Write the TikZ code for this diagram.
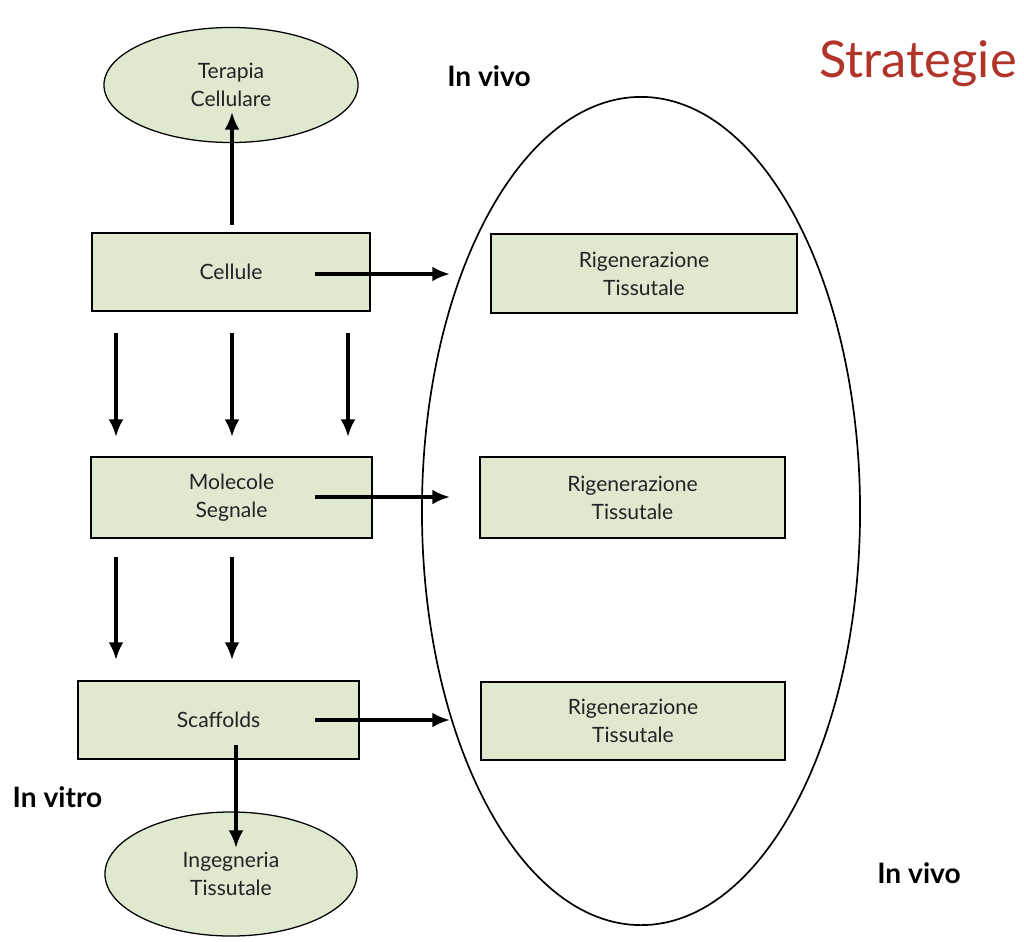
\documentclass[tikz,border=0pt]{standalone}
\usepackage{fontspec}
\setmainfont{Lato}
\usepackage{tikz}
\usetikzlibrary{arrows.meta,positioning,shapes}
\usepackage{xcolor}
\definecolor{boxgreen}{RGB}{222,233,208}
\definecolor{titlered}{RGB}{176,52,42}
\definecolor{boxtext}{RGB}{35,35,35}

\begin{document}
\begin{tikzpicture}[
  x=0.025cm, y=-0.025cm,
  box/.style={rectangle, draw, line width=1.4pt, fill=boxgreen, text=boxtext,
              minimum width=#1, minimum height=1.97cm, inner sep=0pt,
              align=center, font=\fontsize{15}{20}\selectfont},
  box/.default=7cm,
  goal/.style={ellipse, draw, line width=0.9pt, fill=boxgreen, text=boxtext,
               inner sep=0pt, align=center, font=\fontsize{15}{20}\selectfont},
  lbl/.style={anchor=base, font=\fontsize{20}{24}\selectfont\bfseries},
  flow/.style={->, line width=2.3pt},
  >={Latex[length=12.5pt,width=10.5pt]}
]
  \useasboundingbox[fill=white] (0,0) rectangle (1024,941);

  \node[ellipse, draw, line width=1.2pt, inner sep=0pt,
        minimum width=10.95cm, minimum height=20.7cm] (vivo) at (641,511) {};

  \node[goal, minimum width=6.35cm, minimum height=2.875cm] (ter) at (231,85) {Terapia\\Cellulare};
  \node[goal, minimum width=6.3cm, minimum height=3.1cm] (ing) at (231,874) {Ingegneria\\Tissutale};

  \node[box=6.95cm] (cell) at (231,272) {Cellule};
  \node[box=7.03cm, minimum height=2.03cm] (mol) at (231.5,497.5) {Molecole\\Segnale};
  \node[box=7.03cm] (scaf) at (218.5,720) {Scaffolds};

  \node[box=7.65cm] (rig1) at (644,273.5) {Rigenerazione\\Tissutale};
  \node[box=7.63cm, minimum height=2.03cm] (rig2) at (632.5,497.5) {Rigenerazione\\Tissutale};
  \node[box=7.6cm] (rig3) at (633,721) {Rigenerazione\\Tissutale};

  \node[lbl] (iv1) at (489,86) {In vivo};
  \node[lbl] (iv2) at (919,883) {In vivo};
  \node[lbl] (ivt) at (57.5,807) {In vitro};
  \node[anchor=base, text=titlered, font=\fontsize{36}{40}\selectfont] (title) at (918,77) {Strategie};

  % arrows
  \coordinate (t0) at (232,225);
  \coordinate (t1) at (232,112);
  \draw[flow] (t0) -- (t1);

  \coordinate (s0) at (236,745);
  \coordinate (s1) at (236,848);
  \draw[flow] (s0) -- (s1);

  \foreach \y [count=\i] in {274,497,720} {
    \coordinate (h\i a) at (315,\y);
    \coordinate (h\i b) at (450,\y);
    \draw[flow] (h\i a) -- (h\i b);
  }

  \foreach \x [count=\i] in {116,232,348} {
    \coordinate (d\i a) at (\x,333);
    \coordinate (d\i b) at (\x,437);
    \draw[flow] (d\i a) -- (d\i b);
  }
  \foreach \x [count=\i] in {116,232} {
    \coordinate (e\i a) at (\x,557);
    \coordinate (e\i b) at (\x,660);
    \draw[flow] (e\i a) -- (e\i b);
  }
\end{tikzpicture}
\end{document}
